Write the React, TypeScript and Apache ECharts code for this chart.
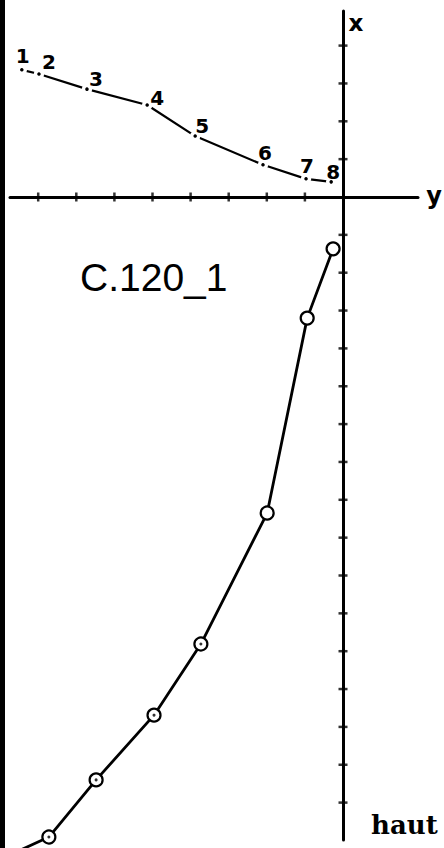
import React, { useEffect, useRef } from "react";
import * as echarts from "echarts";

// Upper profile (horizontal "y" value, vertical "x" value), points 1..8
const profileLabels = ["1", "2", "3", "4", "5", "6", "7", "8"];
const profileY = [-8.43, -7.98, -6.72, -5.14, -3.88, -2.1, -0.97, -0.31];
const profileX = [3.36, 3.25, 2.85, 2.43, 1.61, 0.85, 0.48, 0.4];

// Lower curve ("haut"), last point runs off the sheet
const hautY = [-0.26, -0.94, -1.99, -3.73, -4.96, -6.48, -7.72, -8.87];
const hautX = [-1.37, -3.2, -8.35, -11.81, -13.69, -15.4, -16.91, -17.44];
const dottedFrom = 3; // circles with a centre dot start at this index

// Axis tick positions
const yTicks = [-8, -7, -6, -5, -4, -3, -2, -1];
const xTicks = [4, 3, 2, 1, -1, -2, -3, -4, -5, -6, -7, -8, -9, -10, -11, -12, -13, -14, -15, -16];

// label nudges (px) for point numbers
const labelNudge: [number, number][] = [
  [1, -14], [10, -12], [9, -10], [10, -7], [7, -10], [2, -12], [1, -13], [2, -10],
];

export default function App() {
  const ref = useRef<HTMLDivElement>(null);
  useEffect(() => {
    if (!ref.current) return;
    const chart = echarts.init(ref.current, undefined, { renderer: "svg" });
    const gridLeft = 10, gridRight = 26, gridTop = 11, gridBottom = 8;
    const x0 = 343, ux = 38.1, y0 = 197, uy = 37.85;
    const W = 444, H = 848;
    chart.setOption({
      animation: false,
      backgroundColor: "#ffffff",
      grid: { left: gridLeft, right: gridRight, top: gridTop, bottom: gridBottom },
      xAxis: {
        type: "value",
        min: (gridLeft - x0) / ux,
        max: (W - gridRight - x0) / ux,
        axisLine: { show: true, onZero: true, lineStyle: { color: "#000", width: 3 } },
        axisTick: { show: false },
        axisLabel: { show: false },
        splitLine: { show: false },
      },
      yAxis: {
        type: "value",
        max: (y0 - gridTop) / uy,
        min: -(H - gridBottom - y0) / uy,
        axisLine: { show: true, onZero: true, lineStyle: { color: "#000", width: 3 } },
        axisTick: { show: false },
        axisLabel: { show: false },
        splitLine: { show: false },
      },
      graphic: [
        { type: "rect", shape: { x: 0, y: 0, width: 5, height: H }, style: { fill: "#000" } },
        {
          type: "text", x: 80, y: 277,
          style: { text: "C.120_1", font: "39px 'Liberation Sans', Arial, sans-serif", fill: "#000", verticalAlign: "middle" },
        },
        {
          type: "text", x: 356, y: 23,
          style: { text: "x", font: "bold 23px 'DejaVu Sans', sans-serif", fill: "#000", align: "center", verticalAlign: "middle" },
        },
        {
          type: "text", x: 434, y: 196,
          style: { text: "y", font: "bold 24px 'DejaVu Sans', sans-serif", fill: "#000", align: "center", verticalAlign: "middle" },
        },
        {
          type: "text", x: 371, y: 838,
          style: { text: "haut", font: "bold 26px 'DejaVu Serif', serif", fill: "#000", verticalAlign: "bottom" },
        },
      ],
      series: [
        {
          type: "scatter",
          data: yTicks.map((v) => [v, 0]),
          symbol: "rect",
          symbolSize: [2.5, 9],
          itemStyle: { color: "#000" },
          silent: true,
        },
        {
          type: "scatter",
          data: xTicks.map((v) => [0, v]),
          symbol: "rect",
          symbolSize: [9, 2.5],
          itemStyle: { color: "#000" },
          silent: true,
        },
        {
          type: "line",
          data: profileY.map((v, i) => ({
            value: [v, profileX[i]],
            label: { offset: labelNudge[i] },
          })),
          symbol: "circle",
          symbolSize: 7,
          showAllSymbol: true,
          itemStyle: { color: "#000", borderColor: "#fff", borderWidth: 3.5 },
          lineStyle: { color: "#000", width: 2.2 },
          label: {
            show: true,
            position: "inside",
            formatter: (p: any) => profileLabels[p.dataIndex],
            fontWeight: "bold",
            fontSize: 20,
            fontFamily: "'DejaVu Sans', sans-serif",
            color: "#000",
            align: "center",
            verticalAlign: "middle",
          },
          z: 3,
        },
        {
          type: "line",
          data: hautY.map((v, i) => [v, hautX[i]]),
          clip: false,
          symbol: "circle",
          symbolSize: 13,
          showAllSymbol: true,
          itemStyle: { color: "#fff", borderColor: "#000", borderWidth: 2.2 },
          lineStyle: { color: "#000", width: 2.8 },
          z: 3,
        },
        {
          type: "scatter",
          data: hautY.slice(dottedFrom).map((v, i) => [v, hautX[i + dottedFrom]]),
          symbol: "circle",
          symbolSize: 3,
          itemStyle: { color: "#000" },
          z: 4,
          silent: true,
        },
      ],
    });
    return () => chart.dispose();
  }, []);
  return (
    <div
      ref={ref}
      style={{ position: "fixed", left: 0, top: 0, width: 444, height: 848, background: "#fff" }}
    />
  );
}
